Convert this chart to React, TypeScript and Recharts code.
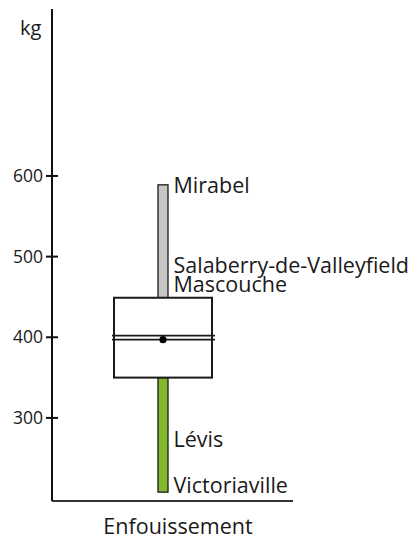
import React from 'react';
import { ComposedChart, Bar, XAxis, YAxis } from 'recharts';

const categories = ['Enfouissement'];
const whiskerMin = [208];
const q1Values = [350];
const medianValues = [402];
const meanValues = [397];
const q3Values = [449];
const whiskerMax = [589];
const yTicks = [300, 400, 500, 600];
const cityNames = ['Mirabel', 'Salaberry-de-Valleyfield', 'Mascouche', 'Lévis', 'Victoriaville'];
const cityValues = [588, 489, 465, 273, 216];
const unitLabel = 'kg';

const data = categories.map((name, i) => ({
  name,
  range: [whiskerMin[i], whiskerMax[i]],
  min: whiskerMin[i],
  q1: q1Values[i],
  median: medianValues[i],
  mean: meanValues[i],
  q3: q3Values[i],
  max: whiskerMax[i],
}));

const FONT = '"Open Sans", sans-serif';

const BoxShape = (props: any) => {
  const { x, y, width, height, payload } = props;
  const { min, max, q1, q3, median, mean } = payload;
  const top = Math.min(y, y + height);
  const h = Math.abs(height);
  const toY = (v: number) => top + ((max - v) / (max - min)) * h;
  const cx = x + width / 2;
  const ww = 10;
  return (
    <g>
      <rect x={cx - ww / 2} y={toY(max)} width={ww} height={toY(q3) - toY(max)} fill="#c6c6c6" stroke="#1a1a1a" strokeWidth={1.3} />
      <rect x={cx - ww / 2} y={toY(q1)} width={ww} height={toY(min) - toY(q1)} fill="#82b92c" stroke="#1a1a1a" strokeWidth={1.3} />
      <rect x={x} y={toY(q3)} width={width} height={toY(q1) - toY(q3)} fill="#ffffff" stroke="#1a1a1a" strokeWidth={2} />
      <line x1={x - 2} x2={x + width + 3} y1={toY(median)} y2={toY(median)} stroke="#1a1a1a" strokeWidth={1.8} />
      <line x1={x - 2} x2={x + width + 3} y1={toY(mean)} y2={toY(mean)} stroke="#1a1a1a" strokeWidth={1.8} />
      <circle cx={cx} cy={toY(mean)} r={3.6} fill="#000" />
      {cityNames.map((n, i) => (
        <text key={n} x={cx + 10.5} y={toY(cityValues[i])} dy="0.35em" fontFamily={FONT} fontSize={21.5} fill="#1a1a1a">
          {n}
        </text>
      ))}
    </g>
  );
};

const YTick = (props: any) => {
  const { x, y, payload } = props;
  return (
    <g>
      <line x1={x - 6} x2={x + 6} y1={y} y2={y} stroke="#111" strokeWidth={2} />
      <text x={x - 9} y={y} dy="0.35em" textAnchor="end" fontFamily={FONT} fontSize={17.5} fill="#1a1a1a">
        {payload.value}
      </text>
    </g>
  );
};

const XTick = (props: any) => {
  const { x, y, payload } = props;
  return (
    <text x={x + 15.5} y={y + 25} dy="0.35em" textAnchor="middle" fontFamily={FONT} fontSize={21.5} fill="#1a1a1a">
      {payload.value}
    </text>
  );
};

export default function App() {
  return (
    <div style={{ position: 'absolute', left: 0, top: 0, width: 417, height: 540, background: '#fff' }}>
      <ComposedChart width={417} height={540} data={data} margin={{ top: 9, right: 124, bottom: 9, left: 0 }}>
        <XAxis
          dataKey="name"
          height={30}
          padding={{ left: 0, right: 20 }}
          axisLine={{ stroke: '#333', strokeWidth: 2 }}
          tickLine={false}
          tickSize={0}
          tickMargin={0}
          tick={<XTick />}
        />
        <YAxis
          type="number"
          width={52}
          domain={[197, 807]}
          ticks={yTicks}
          interval={0}
          axisLine={{ stroke: '#111', strokeWidth: 2 }}
          tickLine={false}
          tickSize={0}
          tickMargin={0}
          tick={<YTick />}
          label={{
            value: unitLabel,
            content: (p: any) => (
              <text x={p.viewBox.x + 20} y={p.viewBox.y + 26} fontFamily={FONT} fontSize={20} fill="#1a1a1a">
                {unitLabel}
              </text>
            ),
          }}
        />
        <Bar dataKey="range" barSize={98} shape={<BoxShape />} isAnimationActive={false} />
      </ComposedChart>
    </div>
  );
}
